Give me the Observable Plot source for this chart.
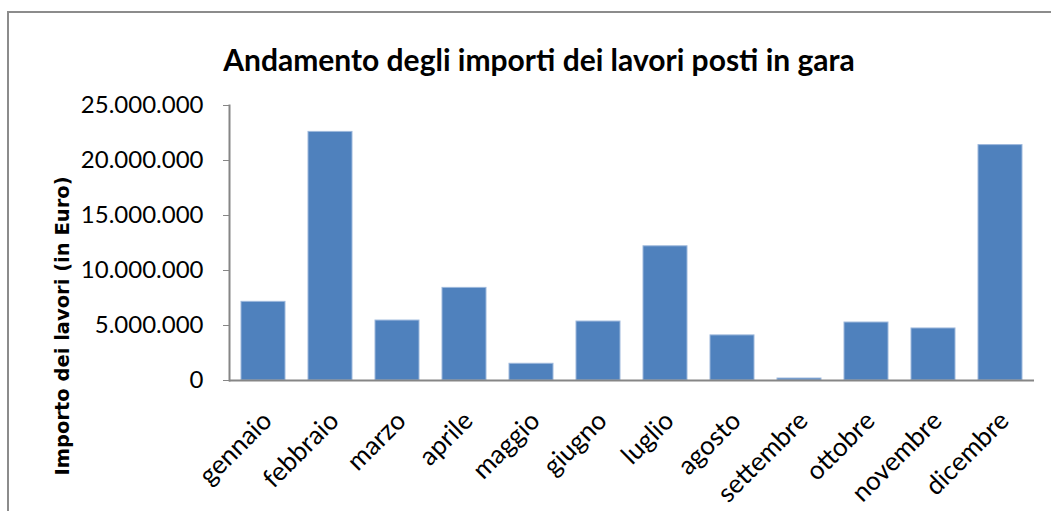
<!DOCTYPE html>
<html>
<head>
<meta charset="utf-8">
<script src="https://cdn.jsdelivr.net/npm/d3@7"></script>
<script src="https://cdn.jsdelivr.net/npm/@observablehq/plot@0.6"></script>
<style>
  html, body { margin: 0; padding: 0; background: #fff; overflow: hidden; }
  #wrap { width: 1051px; height: 511px; overflow: hidden; position: relative; font-family: Lato, "Open Sans", sans-serif; background: #fff; }
  #topline { position: absolute; left: 7px; top: 11px; width: 1044px; height: 2px; background: #8c8c8c; }
  #leftline { position: absolute; left: 7px; top: 11px; width: 2px; height: 500px; background: #8c8c8c; }
  #title { position: absolute; left: 0; top: 0; width: 1078px; height: 80px; text-align: center; font-weight: bold; font-size: 30px; line-height: 30px; padding-top: 44px; box-sizing: border-box; color: #000; white-space: nowrap; }
  #chart { position: absolute; left: 0; top: 80px; }
</style>
</head>
<body>
<div id="wrap">
<div id="topline"></div>
<div id="leftline"></div>
<div id="title">Andamento degli importi dei lavori posti in gara</div>
<div id="chart"></div>
</div>
<script>
const months = ["gennaio", "febbraio", "marzo", "aprile", "maggio", "giugno", "luglio", "agosto", "settembre", "ottobre", "novembre", "dicembre"];
const amounts = [7150000, 22600000, 5450000, 8420000, 1520000, 5360000, 12200000, 4100000, 180000, 5270000, 4730000, 21400000];
const yTicks = [0, 5000000, 10000000, 15000000, 20000000, 25000000];
const yLabel = "Importo dei lavori (in Euro)";

const data = months.map((m, i) => ({month: m, value: amounts[i]}));
const fmt = d => d3.format(",")(d).replace(/,/g, ".");

const chart = Plot.plot({
  width: 1051,
  height: 431,
  marginTop: 25,
  marginBottom: 131,
  marginLeft: 229,
  marginRight: 17,
  style: {fontFamily: "Lato, 'Open Sans', sans-serif", color: "#000", background: "transparent"},
  x: {domain: months, paddingInner: 0.34, paddingOuter: 0.17},
  y: {domain: [0, 25000000]},
  marks: [
    Plot.barY(data, {x: "month", y: "value", fill: "#4f81bd", stroke: "#9db8dc", strokeWidth: 1}),
    Plot.frame({anchor: "left", stroke: "#868686", strokeWidth: 2}),
    Plot.ruleY([0], {stroke: "#868686", strokeWidth: 2}),
    Plot.axisY({ticks: yTicks, tickFormat: fmt, tickSize: 6, tickPadding: 20, fontSize: 24, stroke: "#868686", fill: "#000", label: null}),
    Plot.axisX({tickRotate: -45, tickSize: 0, tickPadding: 30, dx: 4, dy: 6, fontSize: 26, fill: "#000", label: null}),
    Plot.text([yLabel], {text: d => d, frameAnchor: "left", rotate: -90, dx: -167, dy: 83, fontFamily: "'DejaVu Sans', Verdana, sans-serif", fontSize: 19.5, fontWeight: "bold", fill: "#000", textAnchor: "middle", lineAnchor: "middle"})
  ]
});
document.getElementById("chart").appendChild(chart);
</script>
</body>
</html>
